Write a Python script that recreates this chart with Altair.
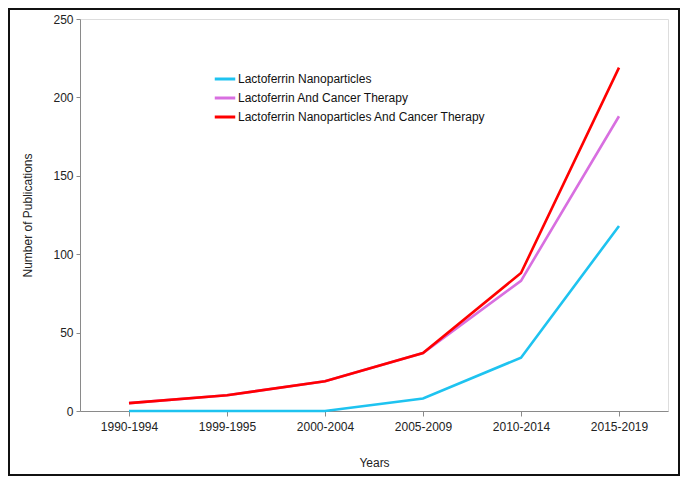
import altair as alt
import pandas as pd

periods = ["1990-1994", "1999-1995", "2000-2004", "2005-2009", "2010-2014", "2015-2019"]
series_names = [
    "Lactoferrin Nanoparticles",
    "Lactoferrin And Cancer Therapy",
    "Lactoferrin Nanoparticles And Cancer Therapy",
]
nano = [0, 0, 0, 8, 34, 118]
cancer = [5, 10, 19, 37, 83, 188]
nano_cancer = [5, 10, 19, 37, 88, 219]
colors = ["#1ec3f0", "#d86fe0", "#ff0000"]

rows = []
for name, vals in zip(series_names, [nano, cancer, nano_cancer]):
    for p, v in zip(periods, vals):
        rows.append({"Period": p, "Series": name, "Count": v})
df = pd.DataFrame(rows)

FONT = "Liberation Sans"
W, H = 588, 392

lines = alt.Chart(df).mark_line(strokeWidth=2.6).encode(
    x=alt.X("Period:O", sort=periods,
            scale=alt.Scale(type="point", padding=0.5),
            axis=alt.Axis(title="Years", labelAngle=0, labelFont=FONT, labelFontSize=12,
                          labelColor="#222", labelPadding=5, tickSize=5,
                          domainColor="#8a8a8a", tickColor="#8a8a8a",
                          titleFont=FONT, titleFontSize=12, titleFontWeight="normal",
                          titleColor="#222", titleX=W / 2, titleY=51, titleBaseline="middle")),
    y=alt.Y("Count:Q", scale=alt.Scale(domain=[0, 250]),
            axis=alt.Axis(title="Number of Publications", values=[0, 50, 100, 150, 200, 250],
                          grid=False, labelFont=FONT, labelFontSize=12, labelColor="#222",
                          labelPadding=3, tickSize=4,
                          domainColor="#8a8a8a", tickColor="#8a8a8a",
                          titleFont=FONT, titleFontSize=12, titleFontWeight="normal",
                          titleColor="#222", titleX=-53, titleY=H / 2,
                          titleBaseline="middle", titleAngle=270)),
    color=alt.Color("Series:N", sort=series_names,
                    scale=alt.Scale(domain=series_names, range=colors),
                    legend=alt.Legend(title=None, orient="none", legendX=133, legendY=48,
                                      symbolType="stroke", symbolSize=420,
                                      symbolStrokeWidth=3, labelFont=FONT, labelFontSize=12,
                                      labelColor="#111", labelOffset=1, rowPadding=1,
                                      padding=0, labelLimit=400)),
    order=alt.Order("Series:N"),
)

frame = alt.Chart(alt.Data(values=[{"a": 1}])).mark_rect(
    fill=None, stroke="#111", strokeWidth=2
).encode(
    x=alt.value(-71), x2=alt.value(W + 11),
    y=alt.value(-10), y2=alt.value(H + 64),
)

chart = alt.layer(lines, frame).properties(
    width=W, height=H,
    autosize=alt.AutoSizeParams(type="none"),
    padding={"left": 72, "top": 11, "right": 12, "bottom": 65},
).configure_view(stroke=None).configure(background="white")

chart.save("out.html", embed_options={"renderer": "svg", "actions": False})
